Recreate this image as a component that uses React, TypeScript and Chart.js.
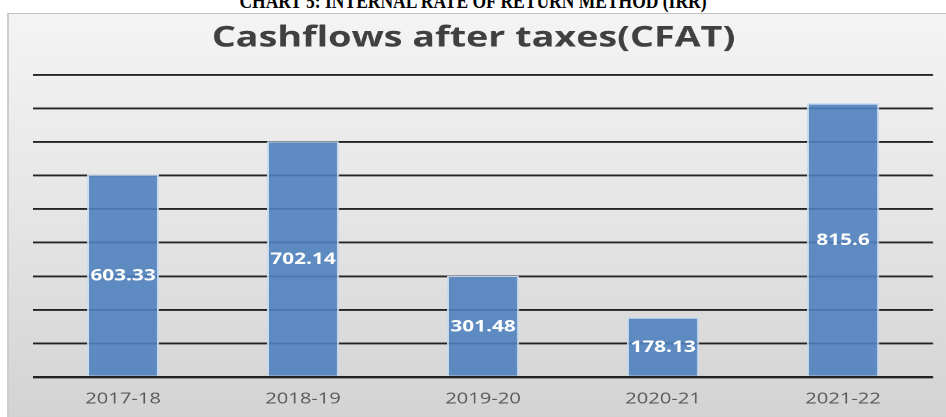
import { useEffect, useRef } from 'react';
import { Chart, registerables } from 'chart.js';

Chart.register(...registerables);

const categories = ['2017-18', '2018-19', '2019-20', '2020-21', '2021-22'];
const cfatValues = [603.33, 702.14, 301.48, 178.13, 815.6];
const valueLabels = ['603.33', '702.14', '301.48', '178.13', '815.6'];
const yMin = 0;
const yMax = 900;
const yStep = 100;
const pageHeading = 'CHART 5: INTERNAL RATE OF RETURN METHOD (IRR)';
const chartTitle = 'Cashflows after taxes(CFAT)';

const SX = 1.3;
const CW = 722;
const CH = 406;

const barLabelPlugin = {
  id: 'barLabels',
  afterDatasetsDraw(chart: any) {
    const ctx = chart.ctx;
    const meta = chart.getDatasetMeta(0);
    ctx.save();
    ctx.fillStyle = '#ffffff';
    ctx.font = 'bold 16px "Open Sans"';
    ctx.textAlign = 'center';
    ctx.textBaseline = 'middle';
    meta.data.forEach((bar: any, i: number) => {
      const p = bar.getProps(['x', 'y', 'base'], true);
      ctx.fillText(valueLabels[i], p.x, (p.y + p.base) / 2 + 1);
    });
    ctx.restore();
  },
};

export default function App() {
  const ref = useRef<HTMLCanvasElement>(null);
  useEffect(() => {
    const chart = new Chart(ref.current!, {
      type: 'bar',
      data: {
        labels: categories,
        datasets: [
          {
            data: cfatValues,
            backgroundColor: 'rgba(79,129,189,0.9)',
            borderColor: 'rgba(200,218,240,0.95)',
            borderWidth: 1.5,
            barPercentage: 0.4,
            categoryPercentage: 1,
          },
        ],
      },
      options: {
        animation: false,
        responsive: false,
        maintainAspectRatio: false,
        devicePixelRatio: 2,
        layout: { padding: { left: 3.8, right: 11.2, top: 0, bottom: 7 } },
        plugins: {
          legend: { display: false },
          tooltip: { enabled: false },
          title: {
            display: true,
            text: chartTitle,
            color: '#404040',
            font: { family: '"Open Sans"', size: 29, weight: 'bold', lineHeight: 1.2 },
            padding: { top: 7, bottom: 19 },
          },
        },
        scales: {
          x: {
            grid: { display: false },
            border: { display: false },
            ticks: {
              color: '#595959',
              font: { family: '"Open Sans"', size: 15.5 },
              padding: 4.7,
            },
          },
          y: {
            min: yMin,
            max: yMax,
            border: { display: false },
            afterFit: (scale: any) => {
              scale.width = 14.7;
            },
            grid: {
              color: 'rgba(20,20,20,0.92)',
              lineWidth: (c: any) => (c.tick && c.tick.value === 0 ? 2.4 : 1.9),
              drawTicks: false,
            },
            ticks: { display: false, stepSize: yStep },
          },
        },
      },
      plugins: [barLabelPlugin],
    } as any);
    return () => chart.destroy();
  }, []);

  return (
    <div
      style={{
        position: 'fixed',
        left: 0,
        top: 0,
        width: 946,
        height: 417,
        background: '#ffffff',
        overflow: 'hidden',
      }}
    >
      <div
        style={{
          position: 'absolute',
          left: 0,
          top: -8.8,
          width: 946,
          textAlign: 'center',
          fontFamily: '"Liberation Serif"',
          fontWeight: 'bold',
          fontSize: '21px',
          lineHeight: '21px',
          color: '#000',
          whiteSpace: 'nowrap',
          transform: 'scaleX(0.833)',
          transformOrigin: '473px 0',
        }}
      >
        {pageHeading}
      </div>
      <div
        style={{
          position: 'absolute',
          left: 7,
          top: 13,
          width: 939,
          height: 404,
          boxSizing: 'border-box',
          borderTop: '1px solid #c2c2c2',
          borderLeft: '2px solid #cdcdcd',
          background: 'linear-gradient(to bottom, #f4f4f4 0%, #e5e5e5 50%, #d3d3d3 100%)',
          overflow: 'hidden',
        }}
      >
        <canvas
          ref={ref}
          width={CW}
          height={CH}
          style={{
            position: 'absolute',
            left: 0,
            top: 0,
            transform: `scaleX(${SX})`,
            transformOrigin: '0 0',
          }}
        />
      </div>
    </div>
  );
}
